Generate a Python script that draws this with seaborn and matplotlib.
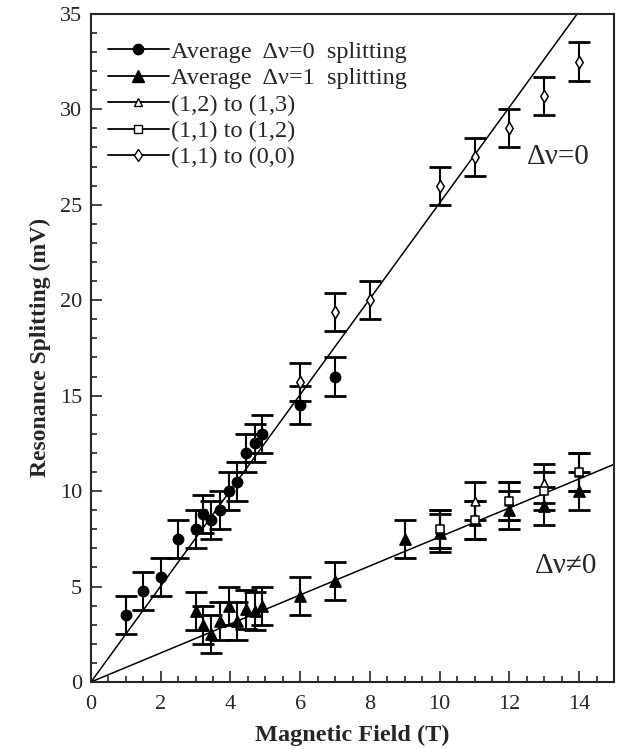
import numpy as np
import pandas as pd
import seaborn as sns
import matplotlib.pyplot as plt
from matplotlib.lines import Line2D
from matplotlib.ticker import MultipleLocator

# Dados
b_avg0 = [1.0, 1.5, 2.0, 2.5, 3.0, 3.2, 3.45, 3.7, 3.95, 4.2, 4.45, 4.7, 4.9, 6.0, 7.0]
s_avg0 = [3.5, 4.75, 5.5, 7.5, 8.0, 8.8, 8.5, 9.0, 10.0, 10.5, 12.0, 12.5, 13.0, 14.5, 16.0]

b_avg1 = [3.0, 3.2, 3.45, 3.7, 3.95, 4.2, 4.45, 4.7, 4.9, 6.0, 7.0, 9.0, 10.0, 11.0, 12.0, 13.0, 14.0]
s_avg1 = [3.7, 3.0, 2.5, 3.2, 4.0, 3.2, 3.8, 3.7, 4.0, 4.5, 5.3, 7.5, 7.8, 8.5, 9.0, 9.2, 10.0]

b_12_13 = [10.0, 11.0, 12.0, 13.0, 14.0]
s_12_13 = [8.0, 9.5, 9.5, 10.4, 11.0]

b_11_12 = [10.0, 11.0, 12.0, 13.0, 14.0]
s_11_12 = [8.0, 8.5, 9.5, 10.0, 11.0]

b_11_00 = [6.0, 7.0, 8.0, 10.0, 11.0, 12.0, 13.0, 14.0]
s_11_00 = [15.7, 19.4, 20.0, 26.0, 27.5, 29.0, 30.7, 32.5]

erro = 1.0
slope_dv0 = 2.51
slope_dv1 = 0.76

sns.set_style("ticks")
plt.rcParams['font.family'] = ['Liberation Serif', 'DejaVu Serif']

fig = plt.figure(figsize=(6.19, 7.49), dpi=100)
ax = fig.add_axes([0.147, 0.0895, 0.845, 0.892])

# Retas ajustadas pela origem
x_fit = np.array([0, 15])
sns.lineplot(x=x_fit, y=slope_dv0 * x_fit, color='black', lw=1.1, ax=ax)
sns.lineplot(x=x_fit, y=slope_dv1 * x_fit, color='black', lw=1.1, ax=ax)

series = [
    (b_avg0, s_avg0, 'o', 'black', 55, 'Average  Δν=0  splitting'),
    (b_avg1, s_avg1, '^', 'black', 65, 'Average  Δν=1  splitting'),
    (b_12_13, s_12_13, '^', 'white', 40, '(1,2) to (1,3)'),
    (b_11_12, s_11_12, 's', 'white', 38, '(1,1) to (1,2)'),
    (b_11_00, s_11_00, 'd', 'white', 40, '(1,1) to (0,0)'),
]

handles = []
for bx, sy, mk, fc, sz, lab in series:
    ax.errorbar(bx, sy, yerr=erro, fmt='none', ecolor='black',
                elinewidth=1.5, capsize=8, capthick=2.0, zorder=2)
    df = pd.DataFrame({'B': bx, 'S': sy})
    sns.scatterplot(data=df, x='B', y='S', marker=mk, s=sz, color=fc,
                    edgecolor='black', linewidth=1.1, ax=ax, zorder=3)
    handles.append(Line2D([], [], color='black', lw=1.3, marker=mk,
                          markersize=np.sqrt(sz), markerfacecolor=fc,
                          markeredgecolor='black', label=lab))

ax.legend(handles=handles, loc='upper left', frameon=False, fontsize=17.5,
          handlelength=2.5, handletextpad=0.1, labelspacing=0.18,
          borderaxespad=0.3, bbox_to_anchor=(0.0, 0.985))

ax.text(12.5, 27.5, 'Δν=0', fontsize=21, va='center', ha='left')
ax.text(12.73, 6.1, 'Δν≠0', fontsize=21, va='center', ha='left')

ax.set_xlim(0, 15)
ax.set_ylim(0, 35)
ax.xaxis.set_major_locator(MultipleLocator(2))
ax.xaxis.set_minor_locator(MultipleLocator(0.5))
ax.yaxis.set_major_locator(MultipleLocator(5))
ax.yaxis.set_minor_locator(MultipleLocator(1))
ax.tick_params(which='both', direction='in', labelsize=16, width=1.2)
ax.tick_params(which='major', length=8)
ax.tick_params(which='minor', length=4)
ax.tick_params(axis='x', pad=9.5)
ax.tick_params(axis='y', pad=6.5)
for sp in ax.spines.values():
    sp.set_linewidth(1.5)

ax.set_xlabel('Magnetic Field (T)', fontsize=17.5, fontweight='bold', labelpad=8)
ax.set_ylabel('Resonance Splitting (mV)', fontsize=17, fontweight='bold', labelpad=6)

fig.savefig('out.png', dpi=100)
